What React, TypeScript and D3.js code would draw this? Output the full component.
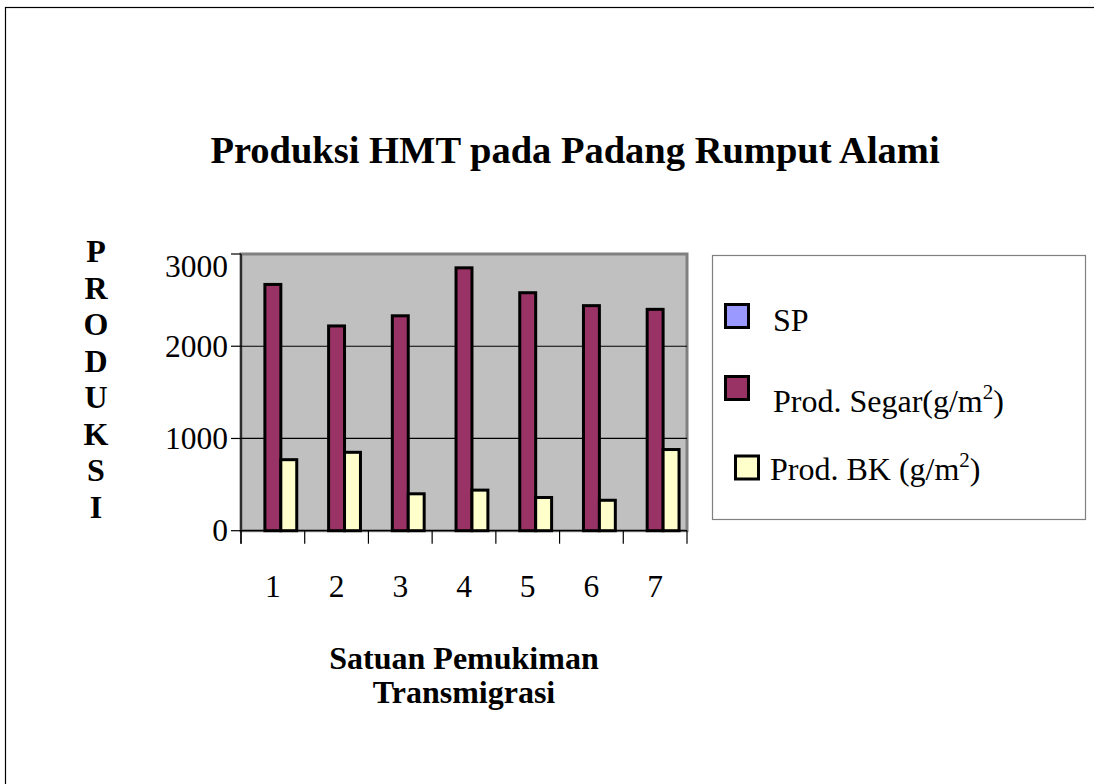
import React from "react";
import * as d3 from "d3";

const categories = ["1", "2", "3", "4", "5", "6", "7"];
const seriesNames = ["SP", "Prod. Segar", "Prod. BK"];
const spValues = [0, 0, 0, 0, 0, 0, 0];
const segarValues = [2670, 2220, 2330, 2850, 2580, 2440, 2400];
const bkValues = [770, 850, 400, 440, 360, 330, 880];
const yTicks = [0, 1000, 2000, 3000];
const seriesColors = ["#9999FF", "#993366", "#FFFFCC"];
const yTitleLetters = ["P", "R", "O", "D", "U", "K", "S", "I"];

const W = 1094;
const H = 784;
const FONT = "'Liberation Serif', 'Times New Roman', serif";

export default function App() {
  const plot = { left: 241, right: 687, top: 254, bottom: 530.7 };
  const x0 = d3.scaleBand<string>().domain(categories).range([plot.left, plot.right]).padding(0);
  const bw = x0.bandwidth();
  const x1 = d3.scaleBand<string>().domain(seriesNames).range([bw / 8, (7 * bw) / 8]).padding(0);
  const y = d3.scaleLinear().domain([0, 3000]).range([plot.bottom, plot.top]);
  const seriesData = [spValues, segarValues, bkValues];

  const boundaries = categories.map((c) => x0(c) as number).concat([plot.right]);

  return (
    <div style={{ position: "absolute", left: 0, top: 0 }}>
      <svg width={W} height={H} style={{ display: "block", fontFamily: FONT }}>
        <rect x={0} y={0} width={W} height={H} fill="#ffffff" />
        <rect x={5.5} y={7.5} width={1200} height={900} fill="none" stroke="#000" strokeWidth={1.2} />

        <text x={575} y={163} textAnchor="middle" fontWeight="bold" fontSize={38.5} fill="#000">
          Produksi HMT pada Padang Rumput Alami
        </text>

        {/* plot area */}
        <rect
          x={plot.left}
          y={plot.top}
          width={plot.right - plot.left}
          height={plot.bottom - plot.top}
          fill="#C0C0C0"
          stroke="#808080"
          strokeWidth={3}
        />
        {yTicks
          .filter((t) => t > 0 && t < 3000)
          .map((t) => (
            <line key={t} x1={plot.left} x2={plot.right} y1={y(t)} y2={y(t)} stroke="#000" strokeWidth={1.2} />
          ))}

        {/* bars */}
        {seriesData.map((vals, si) =>
          vals.map((v, ci) =>
            v > 0 ? (
              <rect
                key={`${si}-${ci}`}
                x={(x0(categories[ci]) as number) + (x1(seriesNames[si]) as number)}
                y={y(v)}
                width={x1.bandwidth()}
                height={y(0) - y(v)}
                fill={seriesColors[si]}
                stroke="#000"
                strokeWidth={3}
              />
            ) : null
          )
        )}

        {/* axes */}
        <line x1={plot.left} x2={plot.left} y1={plot.top} y2={plot.bottom + 13} stroke="#000" strokeWidth={1.3} />
        <line x1={plot.left} x2={plot.right} y1={plot.bottom} y2={plot.bottom} stroke="#000" strokeWidth={1.3} />
        {yTicks.map((t) => (
          <g key={t}>
            <line x1={plot.left - 10} x2={plot.left} y1={y(t)} y2={y(t)} stroke="#000" strokeWidth={1.2} />
            <text
              x={228}
              y={Math.max(y(t), plot.top + 12)}
              dy="0.34em"
              textAnchor="end"
              fontSize={31.5}
              fill="#000"
            >
              {t}
            </text>
          </g>
        ))}
        {boundaries.map((b, i) => (
          <line key={i} x1={b} x2={b} y1={plot.bottom} y2={plot.bottom + 13} stroke="#000" strokeWidth={1.2} />
        ))}
        {categories.map((c) => (
          <text
            key={c}
            x={(x0(c) as number) + bw / 2}
            y={597}
            textAnchor="middle"
            fontSize={31.5}
            fill="#000"
          >
            {c}
          </text>
        ))}

        {/* axis titles */}
        <text x={464} y={669} textAnchor="middle" fontWeight="bold" fontSize={32} fill="#000">
          Satuan Pemukiman
        </text>
        <text x={464} y={703} textAnchor="middle" fontWeight="bold" fontSize={32} fill="#000">
          Transmigrasi
        </text>
        {yTitleLetters.map((l, i) => (
          <text
            key={i}
            x={96}
            y={262 + i * 36.5}
            textAnchor="middle"
            fontWeight="bold"
            fontSize={32}
            fill="#000"
          >
            {l}
          </text>
        ))}

        {/* legend */}
        <rect x={712.5} y={255.5} width={373} height={264} fill="#fff" stroke="#808080" strokeWidth={1.2} />
        <rect x={725.5} y={304.5} width={23} height={23} fill={seriesColors[0]} stroke="#000" strokeWidth={3} />
        <text x={773} y={331} fontSize={32} fill="#000">
          SP
        </text>
        <rect x={725.5} y={376.5} width={23} height={23} fill={seriesColors[1]} stroke="#000" strokeWidth={3} />
        <text x={773} y={412} fontSize={32} fill="#000">
          Prod. Segar(g/m
          <tspan fontSize={21} dy={-13}>
            2
          </tspan>
          <tspan dy={13}>)</tspan>
        </text>
        <rect x={735.5} y={456} width={23} height={23} fill={seriesColors[2]} stroke="#000" strokeWidth={3} />
        <text x={770} y={480} fontSize={32} fill="#000">
          Prod. BK (g/m
          <tspan fontSize={21} dy={-13}>
            2
          </tspan>
          <tspan dy={13}>)</tspan>
        </text>
      </svg>
    </div>
  );
}
